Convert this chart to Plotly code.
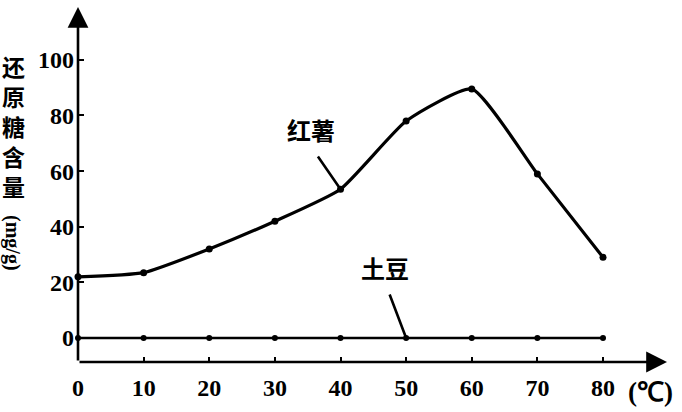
import plotly.graph_objects as go

temps = [0, 10, 20, 30, 40, 50, 60, 70, 80]
sweet_potato = [22, 23.5, 32, 42, 53.5, 78, 89.5, 59, 29]
potato = [0, 0, 0, 0, 0, 0, 0, 0, 0]
y_ticks = [0, 20, 40, 60, 80, 100]
x_ticks = [0, 10, 20, 30, 40, 50, 60, 70, 80]

X_MAX = 89.75
Y_MIN = -8.63
Y_MAX = 119.0

CJK = "Noto Sans CJK SC"
SERIF = "Liberation Serif"

fig = go.Figure()
fig.add_trace(go.Scatter(
    x=temps, y=sweet_potato, mode="lines+markers",
    line=dict(color="black", width=3.2, shape="spline", smoothing=0.5),
    marker=dict(color="black", size=7),
    showlegend=False, cliponaxis=False))
fig.add_trace(go.Scatter(
    x=temps, y=potato, mode="lines+markers",
    line=dict(color="black", width=2.6),
    marker=dict(color="black", size=6),
    showlegend=False, cliponaxis=False))

# axis lines with arrows
fig.add_annotation(x=X_MAX, y=Y_MIN, ax=0, ay=Y_MIN, xref="x", yref="y",
                   axref="x", ayref="y", text="", showarrow=True,
                   arrowhead=2, arrowsize=1.6, arrowwidth=2.6, arrowcolor="black")
fig.add_annotation(x=0, y=Y_MAX, ax=0, ay=Y_MIN, xref="x", yref="y",
                   axref="x", ayref="y", text="", showarrow=True,
                   arrowhead=2, arrowsize=1.6, arrowwidth=2.6, arrowcolor="black")

# series labels with pointer lines
fig.add_annotation(x=35.5, y=74.8, xref="x", yref="y", text="<b>红薯</b>",
                   xanchor="center", yanchor="middle",
                   showarrow=False, font=dict(family=CJK, size=24, color="black"))
fig.add_annotation(x=40, y=53.5, ax=36.4, ay=65.8, xref="x", yref="y",
                   axref="x", ayref="y", text="", showarrow=True,
                   arrowhead=0, arrowwidth=2.6, arrowcolor="black")
fig.add_annotation(x=46.8, y=25.5, xref="x", yref="y", text="<b>土豆</b>",
                   xanchor="center", yanchor="middle",
                   showarrow=False, font=dict(family=CJK, size=24, color="black"))
fig.add_annotation(x=50, y=0, ax=47.4, ay=16.2, xref="x", yref="y",
                   axref="x", ayref="y", text="", showarrow=True,
                   arrowhead=0, arrowwidth=2.6, arrowcolor="black")

# axis titles
fig.add_annotation(x=-65/589, y=(362-126)/355, xref="paper", yref="paper",
                   xanchor="center", yanchor="middle",
                   text="<b>还<br>原<br>糖<br>含<br>量</b>", showarrow=False,
                   font=dict(family=CJK, size=23, color="black"))
fig.add_annotation(x=-65/589, y=(362-243)/355, xref="paper", yref="paper",
                   xanchor="center", yanchor="middle",
                   text="<b>(mg/g)</b>", textangle=90, showarrow=False,
                   font=dict(family=SERIF, size=20, color="black"))
fig.add_annotation(x=(650-78)/589, y=(362-392)/355, xref="paper", yref="paper",
                   xanchor="center", yanchor="middle",
                   text="<b>(℃)</b>", showarrow=False,
                   font=dict(family=SERIF, size=27, color="black"))

fig.update_xaxes(range=[0, X_MAX], tickvals=x_ticks,
                 ticktext=["<b>%d</b>" % v for v in x_ticks],
                 showgrid=False, zeroline=False, showline=False, automargin=False,
                 ticks="inside", ticklen=5, tickwidth=2.2, tickcolor="black",
                 ticklabelstandoff=9,
                 tickfont=dict(family=SERIF, size=24, color="black"))
fig.update_yaxes(range=[Y_MIN, Y_MAX], tickvals=y_ticks,
                 ticktext=["<b>%d</b>" % v for v in y_ticks],
                 showgrid=False, zeroline=False, showline=False, automargin=False,
                 ticks="inside", ticklen=6, tickwidth=2.2, tickcolor="black",
                 ticklabelstandoff=3,
                 tickfont=dict(family=SERIF, size=24, color="black"))
fig.update_layout(width=682, height=412, margin=dict(l=78, r=15, t=7, b=50),
                  plot_bgcolor="white", paper_bgcolor="white")
fig.write_html("out.html", config={"displayModeBar": False},
               post_script="document.body.style.margin='0';")
